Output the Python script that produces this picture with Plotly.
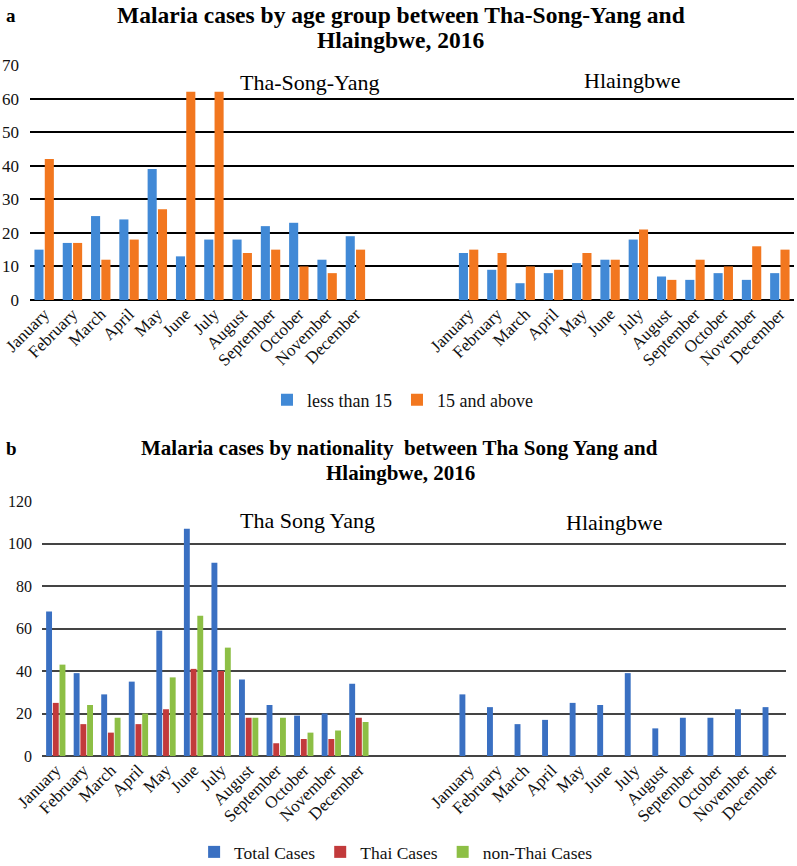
import plotly.graph_objects as go

# ---------------- data ----------------
months = ["January", "February", "March", "April", "May", "June", "July",
          "August", "September", "October", "November", "December"]

# Panel a: age group
tsy_under15 = [15, 17, 25, 24, 39, 13, 18, 18, 22, 23, 12, 19]
tsy_15plus = [42, 17, 12, 18, 27, 62, 62, 14, 15, 10, 8, 15]
hlb_under15 = [14, 9, 5, 8, 11, 12, 18, 7, 6, 8, 6, 8]
hlb_15plus = [15, 14, 10, 9, 14, 12, 21, 6, 12, 10, 16, 15]

# Panel b: nationality
tsy_total = [68, 39, 29, 35, 59, 107, 91, 36, 24, 19, 20, 34]
tsy_thai = [25, 15, 11, 15, 22, 41, 40, 18, 6, 8, 8, 18]
tsy_nonthai = [43, 24, 18, 20, 37, 66, 51, 18, 18, 11, 12, 16]
hlb_total = [29, 23, 15, 17, 25, 24, 39, 13, 18, 18, 22, 23]
hlb_thai = [None] * 12
hlb_nonthai = [None] * 12

# ---------------- layout helpers ----------------
W, H = 797, 866
GAP = 3  # empty category slots between the two districts
pos_tsy = list(range(len(months)))
pos_hlb = [len(months) + GAP + i for i in range(len(months))]
xpos = pos_tsy + pos_hlb
xlabels = months + months
xr = [-0.5, xpos[-1] + 0.5]

SERIF = "Liberation Serif, Times New Roman, serif"

def px_y(y):
    return 1 - y / H

def px_x(x):
    return x / W

C_BLUE_A = "#4189d6"
C_ORANGE_A = "#f2771f"
C_BLUE_B = "#3a70c2"
C_RED_B = "#c23a3b"
C_GREEN_B = "#8dbf45"

fig = go.Figure()

# Panel a traces
fig.add_trace(go.Bar(x=xpos, y=tsy_under15 + hlb_under15, name="less than 15",
                     marker=dict(color=C_BLUE_A, line=dict(width=0)),
                     xaxis="x", yaxis="y", legend="legend"))
fig.add_trace(go.Bar(x=xpos, y=tsy_15plus + hlb_15plus, name="15 and above",
                     marker=dict(color=C_ORANGE_A, line=dict(width=0)),
                     xaxis="x", yaxis="y", legend="legend"))

# Panel b traces
fig.add_trace(go.Bar(x=xpos, y=tsy_total + hlb_total, name="Total Cases",
                     marker=dict(color=C_BLUE_B, line=dict(width=0)),
                     xaxis="x2", yaxis="y2", legend="legend2"))
fig.add_trace(go.Bar(x=xpos, y=tsy_thai + hlb_thai, name="Thai Cases",
                     marker=dict(color=C_RED_B, line=dict(width=0)),
                     xaxis="x2", yaxis="y2", legend="legend2"))
fig.add_trace(go.Bar(x=xpos, y=tsy_nonthai + hlb_nonthai, name="non-Thai Cases",
                     marker=dict(color=C_GREEN_B, line=dict(width=0)),
                     xaxis="x2", yaxis="y2", legend="legend2"))

xaxis_common = dict(range=xr, tickmode="array", tickvals=xpos, ticktext=xlabels,
                    tickangle=-45, showgrid=False, zeroline=False, showline=False,
                    ticks="", tickfont=dict(family=SERIF, size=17, color="#111"),
                    automargin=False, fixedrange=True)

fig.update_layout(
    width=W, height=H,
    margin=dict(l=0, r=0, t=0, b=0, autoexpand=False),
    paper_bgcolor="white", plot_bgcolor="white",
    barmode="group", bargap=0.27, bargroupgap=0.12,
    font=dict(family=SERIF, color="#111"),
    xaxis=dict(domain=[px_x(30), px_x(794)], anchor="y", **xaxis_common),
    yaxis=dict(domain=[px_y(300), px_y(65)], anchor="x", range=[0, 70], dtick=10,
               showgrid=True, gridcolor="#000", gridwidth=1.5,
               zeroline=True, zerolinecolor="#000", zerolinewidth=1.5,
               showline=False, ticks="", ticklabelstandoff=10,
               tickfont=dict(family=SERIF, size=17, color="#111"),
               automargin=False, fixedrange=True),
    xaxis2=dict(domain=[px_x(42), px_x(786)], anchor="y2", **xaxis_common),
    yaxis2=dict(domain=[px_y(756), px_y(501)], anchor="x2", range=[0, 120], dtick=20,
                showgrid=True, gridcolor="#444", gridwidth=1.5,
                zeroline=True, zerolinecolor="#444", zerolinewidth=1.5,
                showline=False, ticks="", ticklabelstandoff=9,
                tickfont=dict(family=SERIF, size=16, color="#111"),
                automargin=False, fixedrange=True),
    legend=dict(orientation="h", x=0.505, xanchor="center", y=px_y(400), yanchor="middle",
                font=dict(family=SERIF, size=18, color="#111"), bgcolor="rgba(0,0,0,0)",
                itemwidth=30, itemclick=False),
    legend2=dict(orientation="h", x=0.497, xanchor="center", y=px_y(852), yanchor="middle",
                 font=dict(family=SERIF, size=17.5, color="#111"), bgcolor="rgba(0,0,0,0)",
                 itemwidth=30, itemclick=False),
    showlegend=True,
)

ann = []
def text(x, y, s, size, xanchor="center"):
    ann.append(dict(x=px_x(x), y=px_y(y), xref="paper", yref="paper", text=s,
                    showarrow=False, xanchor=xanchor, yanchor="middle",
                    font=dict(family=SERIF, size=size, color="#000")))

# titles
text(4, 16, "<b>a</b>", 19, xanchor="left")
text(401, 15, "<b>Malaria cases by age group between Tha-Song-Yang and</b>", 23.5)
text(400, 40, "<b>Hlaingbwe, 2016</b>", 23.5)
text(4, 449, "<b>b</b>", 19, xanchor="left")
text(399, 448, "<b>Malaria cases by nationality  between Tha Song Yang and</b>", 21)
text(400, 473, "<b>Hlaingbwe, 2016</b>", 21)

# district labels
text(310, 82, "Tha-Song-Yang", 22)
text(632, 80, "Hlaingbwe", 22)
text(307, 520, "Tha Song Yang", 22)
text(614, 522, "Hlaingbwe", 22)

fig.update_layout(annotations=ann)

fig.write_html("out.html", config={"displayModeBar": False},
               post_script="document.body.style.margin='0';document.body.style.overflow='hidden';")
